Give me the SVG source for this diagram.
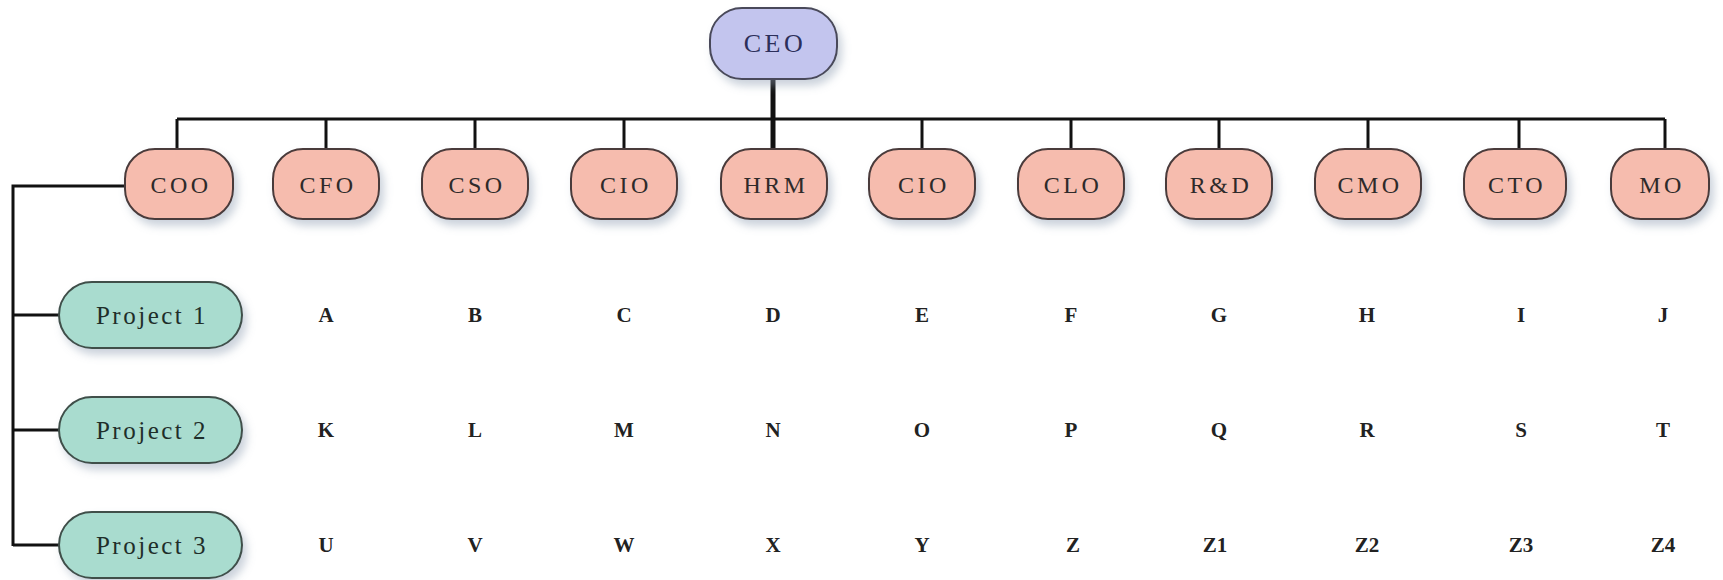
<svg xmlns="http://www.w3.org/2000/svg" width="1723" height="580" viewBox="0 0 1723 580">
<defs>
<filter id="sh" x="-20%" y="-20%" width="150%" height="160%">
<feDropShadow dx="4" dy="6" stdDeviation="4" flood-color="#8c9bb0" flood-opacity="0.45"/>
</filter>
</defs>
<style>
.ceo{fill:#c3c5ee;stroke:#4a4a5a;stroke-width:2;filter:url(#sh)}
.ex{fill:#f6bcae;stroke:#4a3a3a;stroke-width:2;filter:url(#sh)}
.pr{fill:#a9dccf;stroke:#3f4f4a;stroke-width:2;filter:url(#sh)}
.t{font-family:"Liberation Serif","DejaVu Serif",serif;font-size:24px;letter-spacing:3.5px;text-anchor:middle;fill:#2e2a2a}
.tc{font-size:26px;fill:#2c2f5a}
.tp{font-size:25px;letter-spacing:2.5px;fill:#1f2e2a}
.l{font-family:"Liberation Serif","DejaVu Serif",serif;font-size:21px;font-weight:bold;text-anchor:middle;fill:#222}
.c{stroke:#111;stroke-width:3;fill:none}
</style>
<g id="connectors">
<line class="c" x1="773" y1="79" x2="773" y2="149" style="stroke-width:5"/>
<line class="c" x1="177" y1="119" x2="1665" y2="119"/>
<line class="c" x1="177" y1="119" x2="177" y2="149"/>
<line class="c" x1="326" y1="119" x2="326" y2="149"/>
<line class="c" x1="475" y1="119" x2="475" y2="149"/>
<line class="c" x1="624" y1="119" x2="624" y2="149"/>
<line class="c" x1="922" y1="119" x2="922" y2="149"/>
<line class="c" x1="1071" y1="119" x2="1071" y2="149"/>
<line class="c" x1="1219" y1="119" x2="1219" y2="149"/>
<line class="c" x1="1368" y1="119" x2="1368" y2="149"/>
<line class="c" x1="1519" y1="119" x2="1519" y2="149"/>
<line class="c" x1="1665" y1="119" x2="1665" y2="149"/>
<polyline class="c" points="125,186 13,186 13,546"/>
<line class="c" x1="13" y1="315" x2="59" y2="315"/>
<line class="c" x1="13" y1="430" x2="59" y2="430"/>
<line class="c" x1="13" y1="545" x2="59" y2="545"/>
</g>
<g id="ceo"><rect class="ceo" x="710" y="8" width="127" height="71" rx="32"/><text class="t tc" x="775" y="52">CEO</text></g>
<g id="coo"><rect class="ex" x="125" y="149" width="108" height="70" rx="30"/><text class="t" x="181" y="193">COO</text></g>
<g id="cfo"><rect class="ex" x="273" y="149" width="106" height="70" rx="30"/><text class="t" x="328" y="193">CFO</text></g>
<g id="cso"><rect class="ex" x="422" y="149" width="106" height="70" rx="30"/><text class="t" x="477" y="193">CSO</text></g>
<g id="cio1"><rect class="ex" x="571" y="149" width="106" height="70" rx="30"/><text class="t" x="626" y="193">CIO</text></g>
<g id="hrm"><rect class="ex" x="721" y="149" width="106" height="70" rx="30"/><text class="t" x="776" y="193">HRM</text></g>
<g id="cio2"><rect class="ex" x="869" y="149" width="106" height="70" rx="30"/><text class="t" x="924" y="193">CIO</text></g>
<g id="clo"><rect class="ex" x="1018" y="149" width="106" height="70" rx="30"/><text class="t" x="1073" y="193">CLO</text></g>
<g id="rd"><rect class="ex" x="1166" y="149" width="106" height="70" rx="30"/><text class="t" x="1221" y="193">R&amp;D</text></g>
<g id="cmo"><rect class="ex" x="1315" y="149" width="106" height="70" rx="30"/><text class="t" x="1370" y="193">CMO</text></g>
<g id="cto"><rect class="ex" x="1464" y="149" width="102" height="70" rx="30"/><text class="t" x="1517" y="193">CTO</text></g>
<g id="mo"><rect class="ex" x="1611" y="149" width="98" height="70" rx="30"/><text class="t" x="1662" y="193">MO</text></g>
<g id="project1"><rect class="pr" x="59" y="282" width="183" height="66" rx="33"/><text class="t tp" x="152" y="324">Project 1</text></g>
<g id="project2"><rect class="pr" x="59" y="397" width="183" height="66" rx="33"/><text class="t tp" x="152" y="439">Project 2</text></g>
<g id="project3"><rect class="pr" x="59" y="512" width="183" height="66" rx="33"/><text class="t tp" x="152" y="554">Project 3</text></g>
<g id="cells">
<text class="l" x="326" y="322">A</text><text class="l" x="475" y="322">B</text><text class="l" x="624" y="322">C</text><text class="l" x="773" y="322">D</text><text class="l" x="922" y="322">E</text><text class="l" x="1071" y="322">F</text><text class="l" x="1219" y="322">G</text><text class="l" x="1367" y="322">H</text><text class="l" x="1521" y="322">I</text><text class="l" x="1663" y="322">J</text>
<text class="l" x="326" y="437">K</text><text class="l" x="475" y="437">L</text><text class="l" x="624" y="437">M</text><text class="l" x="773" y="437">N</text><text class="l" x="922" y="437">O</text><text class="l" x="1071" y="437">P</text><text class="l" x="1219" y="437">Q</text><text class="l" x="1367" y="437">R</text><text class="l" x="1521" y="437">S</text><text class="l" x="1663" y="437">T</text>
<text class="l" x="326" y="552">U</text><text class="l" x="475" y="552">V</text><text class="l" x="624" y="552">W</text><text class="l" x="773" y="552">X</text><text class="l" x="922" y="552">Y</text><text class="l" x="1073" y="552">Z</text><text class="l" x="1215" y="552">Z1</text><text class="l" x="1367" y="552">Z2</text><text class="l" x="1521" y="552">Z3</text><text class="l" x="1663" y="552">Z4</text>
</g>
</svg>
